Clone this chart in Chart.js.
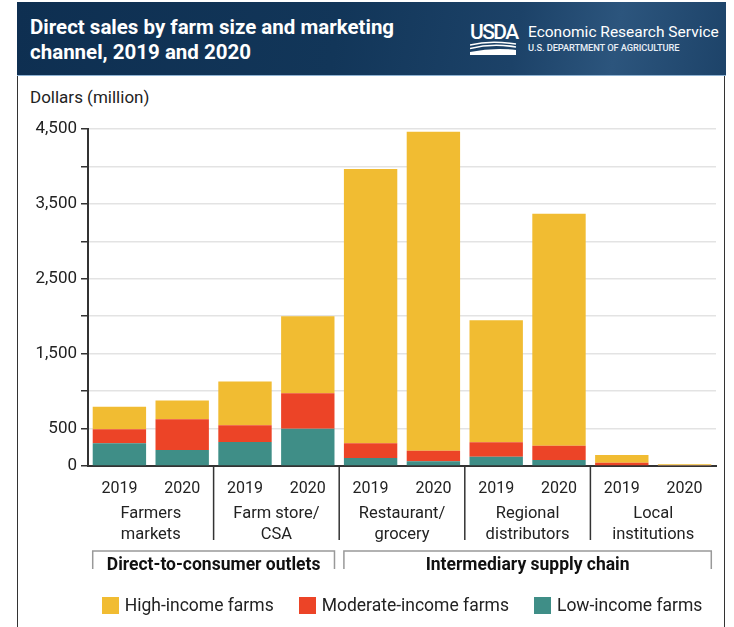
<!DOCTYPE html>
<html>
<head>
<meta charset="utf-8">
<script src="https://cdn.jsdelivr.net/npm/chart.js@4.4.1/dist/chart.umd.min.js"></script>
<style>
html,body{margin:0;padding:0;background:#fff;}
body{width:734px;height:627px;position:relative;overflow:hidden;font-family:Roboto,"Liberation Sans",sans-serif;color:#222;}
#frame{position:absolute;left:17px;top:2px;width:706px;height:700px;border-left:1.5px solid #333;border-right:1.5px solid #333;}
#header{position:absolute;left:17px;top:2px;width:709px;height:73px;
  background:linear-gradient(100deg,#0e2f51 0%,#123659 45%,#1c4268 70%,#2c557d 84%,#1d4369 100%);
  border-bottom:1px solid #8fb3d3;}
#title{position:absolute;left:13px;top:13px;color:#fff;font-weight:700;font-size:20.5px;line-height:24.5px;white-space:nowrap;}
#usda{position:absolute;left:453px;top:19px;color:#fff;font-size:21px;font-weight:500;letter-spacing:-1.6px;line-height:22px;}
#swoosh{position:absolute;left:453px;top:39px;}
#ers{position:absolute;left:511px;top:20px;color:#fff;font-size:15.5px;line-height:20px;white-space:nowrap;}
#dept{position:absolute;left:511px;top:40px;color:#e8eef5;font-size:9.3px;font-weight:500;line-height:12px;white-space:nowrap;letter-spacing:-0.1px;}
#unit{position:absolute;left:30px;top:87px;font-size:17px;line-height:20px;color:#222;}
#chartwrap{position:absolute;left:0;top:0;width:734px;height:627px;}
#legend{position:absolute;left:88px;top:595px;width:628px;display:flex;justify-content:center;gap:25px;font-size:17.5px;line-height:20px;color:#222;}
.item{display:flex;align-items:center;}
.box{width:17px;height:17px;margin-right:6px;}
</style>
</head>
<body>
<div id="frame"></div>
<div id="header">
  <div id="title">Direct sales by farm size and marketing<br>channel, 2019 and 2020</div>
  <div id="usda">USDA</div>
  <svg id="swoosh" width="48" height="14" viewBox="0 0 48 14">
    <path d="M0 4 Q20 -1 46 3" stroke="#fff" stroke-width="1.6" fill="none"/>
    <path d="M0 7.5 Q22 2 46 6" stroke="#fff" stroke-width="1.6" fill="none"/>
    <path d="M0 11 Q24 6 46 9 L46 14 L0 14 Z" fill="#fff"/>
  </svg>
  <div id="ers">Economic Research Service</div>
  <div id="dept">U.S. DEPARTMENT OF AGRICULTURE</div>
</div>
<div id="unit">Dollars (million)</div>
<div id="chartwrap"><canvas id="c" width="734" height="627"></canvas></div>
<div id="legend"></div>
<script>
// ---- data ----
const years = ['2019','2020','2019','2020','2019','2020','2019','2020','2019','2020'];
const channels = [['Farmers','markets'],['Farm store/','CSA'],['Restaurant/','grocery'],['Regional','distributors'],['Local','institutions']];
const sections = [{label:'Direct-to-consumer outlets', from:0, to:3},{label:'Intermediary supply chain', from:4, to:9}];
const lowIncome      = [303, 213, 320, 498, 107,  63, 125,  80, 10,  5];
const moderateIncome = [187, 410, 223, 475, 196, 142, 191, 192, 35, 10];
const highIncome     = [302, 253, 587,1027,3662,4257,1629,3097,102, 10];
const seriesNames = ['Low-income farms','Moderate-income farms','High-income farms'];
const seriesColors = ['#3f8e87','#ec4427','#f1bc32'];
const yTicksLabeled = [0,500,1500,2500,3500,4500];

const decor = {
  id:'decor',
  afterDraw(chart){
    const ctx = chart.ctx, x = chart.scales.x, area = chart.chartArea;
    const meta = chart.getDatasetMeta(0);
    ctx.save();
    // separators between channels
    ctx.strokeStyle = '#333'; ctx.lineWidth = 1.5;
    for(let k=1;k<channels.length;k++){
      const sx = (x.getPixelForValue(2*k-1)+x.getPixelForValue(2*k))/2;
      ctx.beginPath(); ctx.moveTo(sx, area.bottom); ctx.lineTo(sx, area.bottom+74); ctx.stroke();
    }
    // channel names
    ctx.fillStyle = '#222'; ctx.font = '16.5px Roboto'; ctx.textAlign='center'; ctx.textBaseline='middle';
    channels.forEach((lines,g)=>{
      const cx = (x.getPixelForValue(2*g)+x.getPixelForValue(2*g+1))/2;
      lines.forEach((t,i)=> ctx.fillText(t, cx, area.bottom+48+i*21));
    });
    // section brackets
    ctx.strokeStyle = '#999'; ctx.lineWidth = 1.5;
    sections.forEach(s=>{
      const b0 = meta.data[s.from], b1 = meta.data[s.to];
      const l = b0.x - b0.width/2, r = b1.x + b1.width/2;
      const top = area.bottom+85, bot = area.bottom+103;
      ctx.beginPath(); ctx.moveTo(l,bot); ctx.lineTo(l,top); ctx.lineTo(r,top); ctx.lineTo(r,bot); ctx.stroke();
      ctx.font = 'bold 17.5px Roboto'; ctx.fillStyle='#111';
      ctx.fillText(s.label, (l+r)/2, area.bottom+99.5);
    });
    ctx.restore();
  }
};

const datasets = [lowIncome, moderateIncome, highIncome].map((d,i)=>({
  label: seriesNames[i], data: d, backgroundColor: seriesColors[i],
  borderWidth: 0, barPercentage: 0.85, categoryPercentage: 1.0
}));

new Chart(document.getElementById('c'), {
  type:'bar',
  data:{labels: years, datasets},
  options:{
    responsive:false, animation:false,
    layout:{padding:{top:129, right:18, left:0, bottom:0}},
    plugins:{legend:{display:false}, tooltip:{enabled:false}},
    scales:{
      x:{stacked:true,
        grid:{display:false, drawTicks:false},
        border:{display:true, color:'#333', width:2},
        ticks:{font:{family:'Roboto', size:16}, color:'#222', padding:13, maxRotation:0, autoSkip:false},
        afterFit(s){ s.height = 161; }
      },
      y:{stacked:true, min:0, max:4500,
        grid:{color:'#e3e3e3', lineWidth:1.5, drawTicks:true, tickLength:7, tickColor:'#333'},
        border:{display:true, color:'#333', width:2},
        ticks:{stepSize:500, font:{family:'Roboto', size:17}, color:'#222', padding:4,
          callback:(v)=> yTicksLabeled.includes(v) ? v.toLocaleString('en-US') : ''},
        afterFit(s){ s.width = 88; }
      }
    }
  },
  plugins:[decor]
});

// legend (High, Moderate, Low)
const lg = document.getElementById('legend');
[2,1,0].forEach(i=>{
  const it = document.createElement('div'); it.className='item';
  const b = document.createElement('div'); b.className='box'; b.style.background=seriesColors[i];
  const t = document.createElement('span'); t.textContent = seriesNames[i];
  it.appendChild(b); it.appendChild(t); lg.appendChild(it);
});
</script>
</body>
</html>
